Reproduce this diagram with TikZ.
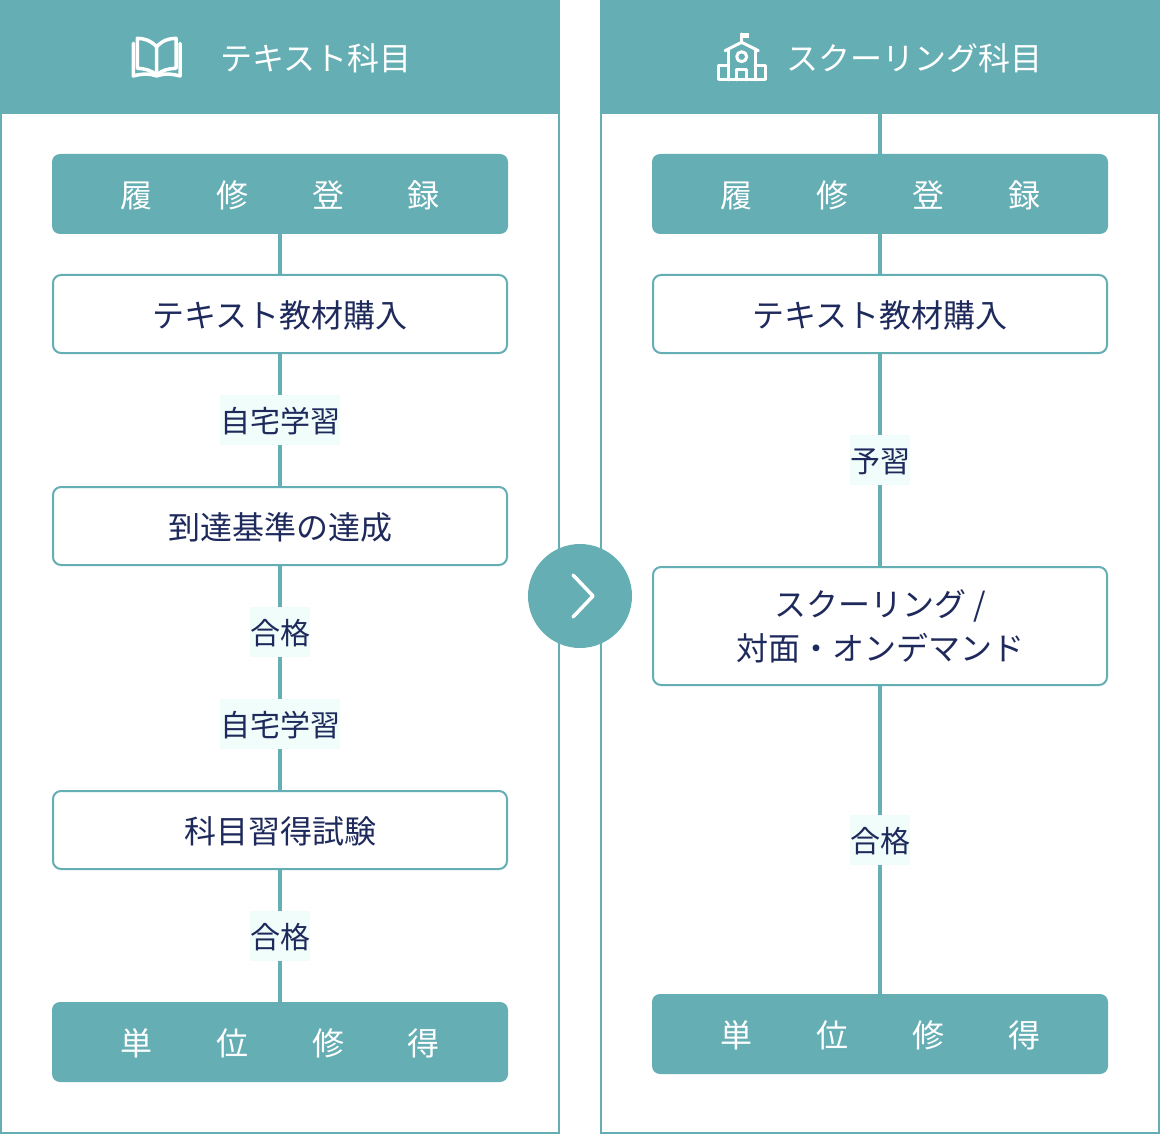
\documentclass[tikz,border=0pt]{standalone}
\usepackage{fontspec}
\setmainfont{Noto Sans CJK JP}
\definecolor{tealbar}{HTML}{64AEB4}
\definecolor{navytext}{HTML}{1F2A5C}
\definecolor{palemint}{HTML}{F0FDFB}
\tikzset{
  headbar/.style={fill=tealbar, minimum width=560pt, minimum height=114pt, inner sep=0pt},
  headtext/.style={text=white, font=\fontsize{32}{40}\selectfont, inner sep=0pt},
  solidbox/.style={fill=tealbar, text=white, rounded corners=8pt, minimum width=456pt, minimum height=80pt, inner sep=0pt, font=\fontsize{32}{44}\selectfont, text height=29.3pt, text depth=2.7pt},
  linebox/.style={draw=tealbar, line width=2pt, fill=white, text=navytext, rounded corners=8pt, minimum width=454pt, minimum height=78pt, inner sep=0pt, font=\fontsize{32}{44}\selectfont, align=center},
  onelinebox/.style={linebox, text height=29.3pt, text depth=2.7pt},
  passlabel/.style={fill=palemint, text=navytext, minimum height=50pt, inner sep=0pt, font=\fontsize{30}{40}\selectfont, text height=27pt, text depth=3pt},
  joinline/.style={draw=tealbar, line width=4pt},
  iconline/.style={draw=white, line width=3pt, line join=round, line cap=round}
}
\begin{document}
\begin{tikzpicture}[x=1pt,y=-1pt]
    \useasboundingbox (0,0) rectangle (1160,1134);
    \draw[tealbar, line width=2pt] (1,1) rectangle (559,1133);
    \draw[tealbar, line width=2pt] (601,1) rectangle (1159,1133);
    \node[headbar] (headL) at (280,57) {};
    \node[headbar] (headR) at (880,57) {};
    \node[headtext] (titleL) at (316,58) {テキスト科目};
    \node[headtext] (titleR) at (914.5,58) {スクーリング科目};

    \node[solidbox] (regL) at (280,194) {履　　修　　登　　録};
    \node[onelinebox] (buyL) at (280,314) {テキスト教材購入};
    \node[onelinebox] (goalL) at (280,526) {到達基準の達成};
    \node[onelinebox] (examL) at (280,830) {科目習得試験};
    \node[solidbox] (creditL) at (280,1042) {単　　位　　修　　得};
    \draw[joinline] (regL) -- (buyL);
    \draw[joinline] (buyL) -- (goalL);
    \draw[joinline] (goalL) -- (examL);
    \draw[joinline] (examL) -- (creditL);
    \node[passlabel, minimum width=120pt] (studyA) at (280,420) {自宅学習};
    \node[passlabel, minimum width=60pt] (passA) at (280,632) {合格};
    \node[passlabel, minimum width=120pt] (studyB) at (280,724) {自宅学習};
    \node[passlabel, minimum width=60pt] (passB) at (280,936) {合格};

    \node[solidbox] (regR) at (880,194) {履　　修　　登　　録};
    \node[onelinebox] (buyR) at (880,314) {テキスト教材購入};
    \node[linebox, minimum height=118pt] (school) at (880,626) {スクーリング /\\対面・オンデマンド};
    \node[solidbox] (creditR) at (880,1034) {単　　位　　修　　得};
    \draw[joinline] (headR) -- (regR);
    \draw[joinline] (regR) -- (buyR);
    \draw[joinline] (buyR) -- (school);
    \draw[joinline] (school) -- (creditR);
    \node[passlabel, minimum width=60pt] (prep) at (880,460) {予習};
    \node[passlabel, minimum width=60pt] (passC) at (880,840) {合格};

    \node[circle, fill=tealbar, minimum size=104pt, inner sep=0pt] (nextstep) at (580,596) {};
    \draw[iconline, line width=3.5pt] (573,575) -- (593,596) -- (573,617);

    % book
    \begin{scope}[iconline, line width=3.5pt]
    \draw (156.7,46.7) .. controls (150,40) and (144,38.5) .. (137.3,38.3) -- (137.3,68.3) .. controls (144,68.5) and (151,70) .. (156.7,75) -- cycle;
    \draw (156.7,46.7) .. controls (163,40) and (169,38.5) .. (176,38.3) -- (176,68.3) .. controls (169,68.5) and (162,70) .. (156.7,75);
    \draw (133.3,43.3) -- (133.3,76) .. controls (142,73.5) and (150,73.5) .. (156.7,76) .. controls (163,73.5) and (171,73.5) .. (180,76) -- (180,43.3);
    \end{scope}

    % school
    \draw[iconline] (741.7,43) -- (741.7,34);
    \fill[white] (741.7,33) rectangle (749,38.5);
    \draw[iconline] (725,50.7) -- (741.7,42.3) -- (758.3,50.7);
    \draw[iconline] (728.3,49) -- (728.3,80);
    \draw[iconline] (755,49) -- (755,80);
    \draw[iconline] (741.7,56.7) circle (5);
    \draw[iconline] (728.3,66) -- (718.3,66) -- (718.3,80) -- (765,80) -- (765,66) -- (755,66);
    \draw[iconline] (736.7,80) -- (736.7,70) -- (746.7,70) -- (746.7,80);
  \end{tikzpicture}
\end{document}
